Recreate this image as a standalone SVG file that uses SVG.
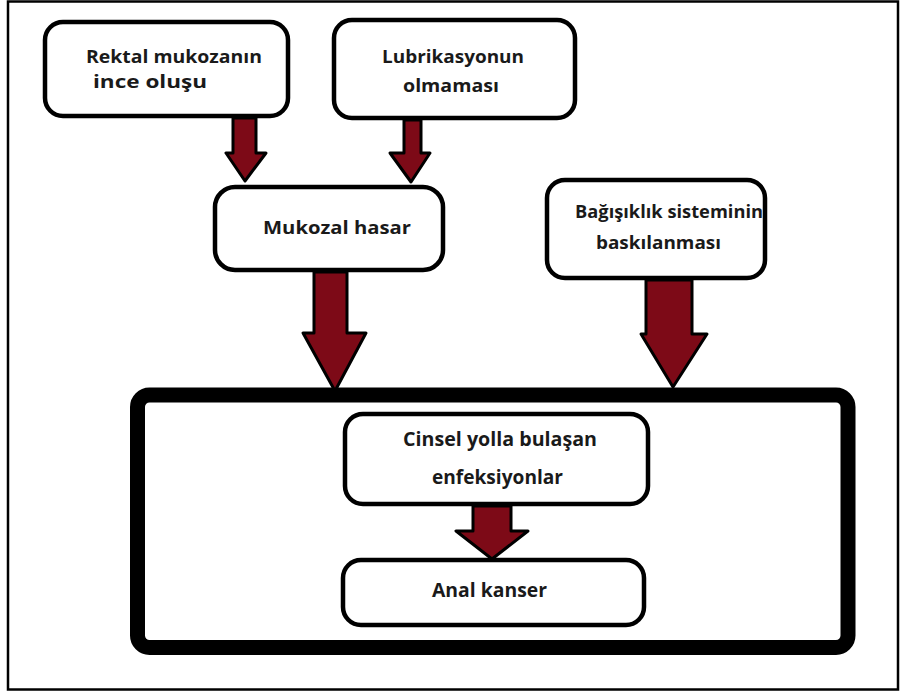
<svg xmlns="http://www.w3.org/2000/svg" width="907" height="695" viewBox="0 0 907 695">
<style>
.frame{fill:none;stroke:#000;stroke-width:2.5}
.box{fill:#fff;stroke:#000;stroke-width:4.5}
.container{fill:#fff;stroke:#000;stroke-width:15}
.arrow{fill:#7d0a17;stroke:#000;stroke-width:3;stroke-linejoin:round}
.t{font-family:"Open Sans","Liberation Sans",sans-serif;font-weight:700;fill:#1a1a1a}
</style>
<rect x="0" y="0" width="907" height="695" fill="#fff"/>
<rect class="frame" x="8" y="1.5" width="890" height="688"/>
<g id="container">
<rect class="container" x="137.5" y="395" width="710.5" height="252.5" rx="12"/>
</g>
<g id="connectors">
<polygon class="arrow" points="233,118 256,118 256,153 266,153 245,181 226,153 233,153"/>
<polygon class="arrow" points="404,120 421,120 421,153 430,153 411,182 390,153 404,153"/>
<polygon class="arrow" points="314,272 347,272 347,333 366,333 335,391 303,333 314,333"/>
<polygon class="arrow" points="646,280 692,280 692,334 707,334 673,387 641,334 646,334"/>
<polygon class="arrow" points="473,506 511,506 511,531 528,531 492,559 456,531 473,531"/>
</g>
<g id="node-rektal">
<rect class="box" x="45" y="22" width="243" height="94" rx="18"/>
<text class="t" font-size="17" x="86" y="63" textLength="176" lengthAdjust="spacingAndGlyphs">Rektal mukozanın</text>
<text class="t" font-size="18" x="93" y="88" textLength="114" lengthAdjust="spacingAndGlyphs">ince oluşu</text>
</g>
<g id="node-lubrikasyon">
<rect class="box" x="334" y="20" width="241" height="98" rx="18"/>
<text class="t" font-size="17" x="382" y="63" textLength="142" lengthAdjust="spacingAndGlyphs">Lubrikasyonun</text>
<text class="t" font-size="17" x="403" y="92" textLength="96" lengthAdjust="spacingAndGlyphs">olmaması</text>
</g>
<g id="node-mukozal">
<rect class="box" x="215" y="187" width="228" height="83" rx="20"/>
<text class="t" font-size="18" x="263" y="234" textLength="148" lengthAdjust="spacingAndGlyphs">Mukozal hasar</text>
</g>
<g id="node-bagisiklik">
<rect class="box" x="547" y="180" width="218" height="98" rx="18"/>
<text class="t" font-size="18" x="575" y="218" textLength="188" lengthAdjust="spacingAndGlyphs">Bağışıklık sisteminin</text>
<text class="t" font-size="18" x="596" y="249" textLength="125" lengthAdjust="spacingAndGlyphs">baskılanması</text>
</g>
<g id="node-cinsel">
<rect class="box" x="345" y="414" width="303" height="90" rx="18"/>
<text class="t" font-size="19" x="403" y="446" textLength="194" lengthAdjust="spacingAndGlyphs">Cinsel yolla bulaşan</text>
<text class="t" font-size="19" x="432" y="484" textLength="131" lengthAdjust="spacingAndGlyphs">enfeksiyonlar</text>
</g>
<g id="node-anal">
<rect class="box" x="343" y="560" width="301" height="65" rx="18"/>
<text class="t" font-size="19" x="432" y="597" textLength="115" lengthAdjust="spacingAndGlyphs">Anal kanser</text>
</g>
</svg>
